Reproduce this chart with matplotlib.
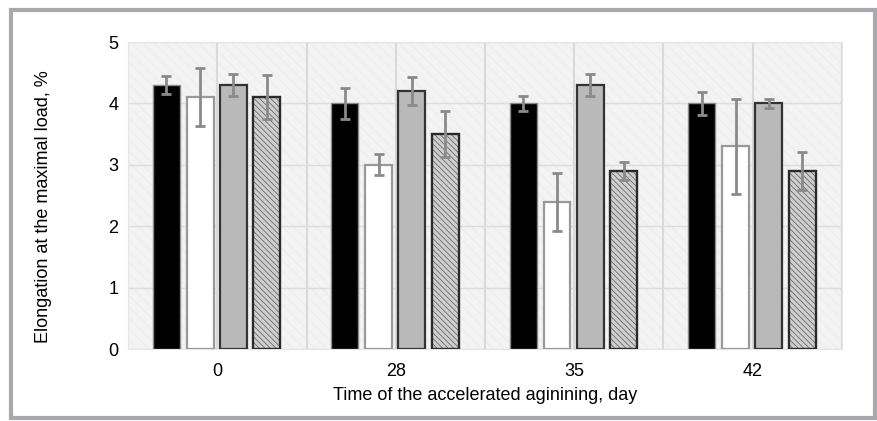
import numpy as np
import matplotlib.pyplot as plt
from matplotlib.patches import Rectangle

plt.rcParams['font.family'] = ['Liberation Sans', 'DejaVu Sans']
plt.rcParams['hatch.linewidth'] = 0.6

# data
days = ['0', '28', '35', '42']
black_vals = [4.3, 4.0, 4.0, 4.0]
black_err = [0.15, 0.26, 0.12, 0.18]
white_vals = [4.1, 3.0, 2.4, 3.3]
white_err = [0.47, 0.17, 0.47, 0.77]
grey_vals = [4.3, 4.2, 4.3, 4.0]
grey_err = [0.18, 0.23, 0.18, 0.07]
hatch_vals = [4.1, 3.5, 2.9, 2.9]
hatch_err = [0.36, 0.37, 0.15, 0.31]

fig = plt.figure(figsize=(8.77, 4.21), dpi=100)
fig.patch.set_facecolor('white')
ax = fig.add_axes([0.146, 0.171, 0.814, 0.729])

# light, faintly hatched plot background
ax.set_facecolor('#f3f3f3')
ax.add_patch(Rectangle((0, 0), 1, 1, transform=ax.transAxes, facecolor='none',
                       edgecolor='#ececec', hatch='\\\\\\', linewidth=0,
                       zorder=0))

x = np.arange(len(days))
w = 0.15
offs = [-0.285, -0.096, 0.09, 0.277]
err_kw = dict(ecolor='#8a8a8a', elinewidth=2, capsize=3.8, capthick=2)

ax.bar(x + offs[0], black_vals, w, yerr=black_err, color='black',
       edgecolor='#8a8a8a', linewidth=1, error_kw=err_kw, zorder=3)
ax.bar(x + offs[1], white_vals, w, yerr=white_err, color='white',
       edgecolor='#999999', linewidth=1.6, error_kw=err_kw, zorder=3)
ax.bar(x + offs[2], grey_vals, w, yerr=grey_err, color='#b9b9b9',
       edgecolor='#333333', linewidth=1.6, error_kw=err_kw, zorder=3)
ax.bar(x + offs[3], hatch_vals, w, yerr=hatch_err, color='#cfcfcf',
       edgecolor='#2a2a2a', linewidth=1.6, hatch='\\\\\\\\\\\\',
       error_kw=err_kw, zorder=3)
# hatch lines lighter, outline dark on top
for p in ax.patches[-4:]:
    p.set_edgecolor('#6a6a6a')
ax.bar(x + offs[3], hatch_vals, w, color='none', edgecolor='#2a2a2a',
       linewidth=1.6, zorder=3)

ax.set_xlim(-0.5, 3.5)
ax.set_ylim(0, 5)
ax.set_xticks(x)
ax.set_xticklabels(days, fontsize=13)
ax.set_xticks(np.arange(-0.5, 3.6, 0.5), minor=True)
ax.set_yticks(np.arange(0, 6, 1))
ax.tick_params(axis='y', labelsize=13, length=0, pad=7)
ax.tick_params(axis='x', which='both', length=0, pad=10)
ax.grid(axis='y', color='#dddddd', linewidth=1, zorder=1)
ax.grid(axis='x', which='both', color='#d9d9d9', linewidth=1.5, zorder=1)
ax.set_axisbelow(True)
for s in ax.spines.values():
    s.set_color('#e6e6e6')
    s.set_linewidth(0.8)

ax.set_xlabel('Time of the accelerated aginining, day', fontsize=13,
              labelpad=5)
ax.set_ylabel('Elongation at the maximal load, %', fontsize=13)
ax.yaxis.set_label_coords(-0.106, 0.465)

# grey frame round the whole figure
fig.patches.append(Rectangle((11 / 877, 3 / 421), 864 / 877, 408 / 421,
                             transform=fig.transFigure, fill=False,
                             edgecolor='#a9a9ad', linewidth=3))

fig.savefig('out.png', dpi=100)
